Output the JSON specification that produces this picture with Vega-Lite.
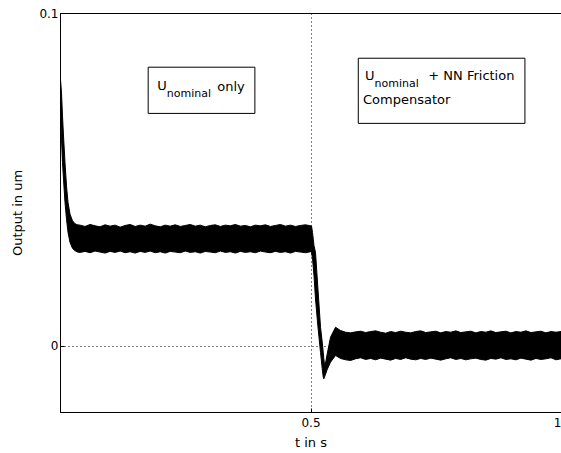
{
  "$schema": "https://vega.github.io/schema/vega-lite/v6.json",
  "width": 501,
  "height": 399,
  "autosize": {"type": "none"},
  "padding": {"left": 60, "top": 13, "right": 0, "bottom": 41},
  "background": "white",
  "config": {
    "font": "DejaVu Sans",
    "view": {"stroke": "#000", "strokeWidth": 1},
    "axis": {
      "domainColor": "#000",
      "tickColor": "#000",
      "tickSize": -4,
      "labelColor": "#000",
      "labelFont": "DejaVu Sans",
      "labelFontSize": 12,
      "titleFont": "DejaVu Sans",
      "titleFontSize": 13,
      "titleFontWeight": "normal",
      "titleColor": "#000",
      "grid": true,
      "gridColor": "#000",
      "gridDash": [1, 3],
      "gridOpacity": 1
    }
  },
  "datasets": {
    "band": [
      {"t": 0.001, "hi": 0.080, "lo": 0.070},
      {"t": 0.003, "hi": 0.076, "lo": 0.062},
      {"t": 0.005, "hi": 0.069, "lo": 0.055},
      {"t": 0.007, "hi": 0.063, "lo": 0.050},
      {"t": 0.010, "hi": 0.055, "lo": 0.043},
      {"t": 0.013, "hi": 0.048, "lo": 0.038},
      {"t": 0.016, "hi": 0.043, "lo": 0.034},
      {"t": 0.020, "hi": 0.0395, "lo": 0.031},
      {"t": 0.025, "hi": 0.0375, "lo": 0.0292},
      {"t": 0.030, "hi": 0.0366, "lo": 0.0285},
      {"t": 0.035, "hi": 0.0363, "lo": 0.0281},
      {"t": 0.040, "hi": 0.0362, "lo": 0.0280},
      {"t": 0.050, "hi": 0.0358, "lo": 0.0283},
      {"t": 0.060, "hi": 0.0364, "lo": 0.0279},
      {"t": 0.070, "hi": 0.0360, "lo": 0.0284},
      {"t": 0.080, "hi": 0.0357, "lo": 0.0281},
      {"t": 0.090, "hi": 0.0363, "lo": 0.0278},
      {"t": 0.100, "hi": 0.0359, "lo": 0.0283},
      {"t": 0.110, "hi": 0.0362, "lo": 0.0280},
      {"t": 0.120, "hi": 0.0356, "lo": 0.0284},
      {"t": 0.130, "hi": 0.0361, "lo": 0.0279},
      {"t": 0.140, "hi": 0.0364, "lo": 0.0282},
      {"t": 0.150, "hi": 0.0358, "lo": 0.0278},
      {"t": 0.160, "hi": 0.0362, "lo": 0.0283},
      {"t": 0.170, "hi": 0.0359, "lo": 0.0280},
      {"t": 0.180, "hi": 0.0365, "lo": 0.0284},
      {"t": 0.190, "hi": 0.0360, "lo": 0.0279},
      {"t": 0.200, "hi": 0.0357, "lo": 0.0282},
      {"t": 0.210, "hi": 0.0362, "lo": 0.0278},
      {"t": 0.220, "hi": 0.0359, "lo": 0.0283},
      {"t": 0.230, "hi": 0.0363, "lo": 0.0281},
      {"t": 0.240, "hi": 0.0358, "lo": 0.0279},
      {"t": 0.250, "hi": 0.0361, "lo": 0.0284},
      {"t": 0.260, "hi": 0.0364, "lo": 0.0280},
      {"t": 0.270, "hi": 0.0359, "lo": 0.0282},
      {"t": 0.280, "hi": 0.0362, "lo": 0.0278},
      {"t": 0.290, "hi": 0.0357, "lo": 0.0283},
      {"t": 0.300, "hi": 0.0361, "lo": 0.0281},
      {"t": 0.310, "hi": 0.0363, "lo": 0.0279},
      {"t": 0.320, "hi": 0.0358, "lo": 0.0284},
      {"t": 0.330, "hi": 0.0362, "lo": 0.0280},
      {"t": 0.340, "hi": 0.0360, "lo": 0.0282},
      {"t": 0.350, "hi": 0.0364, "lo": 0.0278},
      {"t": 0.360, "hi": 0.0359, "lo": 0.0283},
      {"t": 0.370, "hi": 0.0361, "lo": 0.0280},
      {"t": 0.380, "hi": 0.0357, "lo": 0.0282},
      {"t": 0.390, "hi": 0.0362, "lo": 0.0279},
      {"t": 0.400, "hi": 0.0360, "lo": 0.0284},
      {"t": 0.410, "hi": 0.0363, "lo": 0.0281},
      {"t": 0.420, "hi": 0.0358, "lo": 0.0279},
      {"t": 0.430, "hi": 0.0361, "lo": 0.0283},
      {"t": 0.440, "hi": 0.0364, "lo": 0.0280},
      {"t": 0.450, "hi": 0.0359, "lo": 0.0282},
      {"t": 0.460, "hi": 0.0362, "lo": 0.0278},
      {"t": 0.470, "hi": 0.0358, "lo": 0.0283},
      {"t": 0.480, "hi": 0.0361, "lo": 0.0281},
      {"t": 0.490, "hi": 0.0363, "lo": 0.0279},
      {"t": 0.500, "hi": 0.0360, "lo": 0.0282},
      {"t": 0.502, "hi": 0.0360, "lo": 0.0280},
      {"t": 0.504, "hi": 0.0340, "lo": 0.0262},
      {"t": 0.507, "hi": 0.0300, "lo": 0.0210},
      {"t": 0.510, "hi": 0.0280, "lo": 0.0140},
      {"t": 0.5146, "hi": 0.0176, "lo": 0.0060},
      {"t": 0.520, "hi": 0.0055, "lo": -0.0021},
      {"t": 0.5234, "hi": 0.0010, "lo": -0.0070},
      {"t": 0.5254, "hi": -0.0020, "lo": -0.0095},
      {"t": 0.5266, "hi": -0.0040, "lo": -0.0100},
      {"t": 0.5286, "hi": -0.0065, "lo": -0.0092},
      {"t": 0.5334, "hi": -0.0025, "lo": -0.0072},
      {"t": 0.540, "hi": 0.0025, "lo": -0.0050},
      {"t": 0.550, "hi": 0.0055, "lo": -0.0030},
      {"t": 0.560, "hi": 0.0045, "lo": -0.0039},
      {"t": 0.570, "hi": 0.0040, "lo": -0.0043},
      {"t": 0.580, "hi": 0.0038, "lo": -0.0045},
      {"t": 0.590, "hi": 0.0041, "lo": -0.0040},
      {"t": 0.600, "hi": 0.0043, "lo": -0.0037},
      {"t": 0.610, "hi": 0.0039, "lo": -0.0042},
      {"t": 0.620, "hi": 0.0042, "lo": -0.0039},
      {"t": 0.630, "hi": 0.0044, "lo": -0.0043},
      {"t": 0.640, "hi": 0.0040, "lo": -0.0038},
      {"t": 0.650, "hi": 0.0037, "lo": -0.0041},
      {"t": 0.660, "hi": 0.0042, "lo": -0.0044},
      {"t": 0.670, "hi": 0.0039, "lo": -0.0039},
      {"t": 0.680, "hi": 0.0043, "lo": -0.0042},
      {"t": 0.690, "hi": 0.0040, "lo": -0.0037},
      {"t": 0.700, "hi": 0.0038, "lo": -0.0041},
      {"t": 0.710, "hi": 0.0042, "lo": -0.0043},
      {"t": 0.720, "hi": 0.0044, "lo": -0.0039},
      {"t": 0.730, "hi": 0.0039, "lo": -0.0042},
      {"t": 0.740, "hi": 0.0041, "lo": -0.0038},
      {"t": 0.750, "hi": 0.0043, "lo": -0.0041},
      {"t": 0.760, "hi": 0.0038, "lo": -0.0044},
      {"t": 0.770, "hi": 0.0042, "lo": -0.0040},
      {"t": 0.780, "hi": 0.0040, "lo": -0.0037},
      {"t": 0.790, "hi": 0.0044, "lo": -0.0042},
      {"t": 0.800, "hi": 0.0039, "lo": -0.0039},
      {"t": 0.810, "hi": 0.0041, "lo": -0.0043},
      {"t": 0.820, "hi": 0.0043, "lo": -0.0040},
      {"t": 0.830, "hi": 0.0038, "lo": -0.0038},
      {"t": 0.840, "hi": 0.0042, "lo": -0.0042},
      {"t": 0.850, "hi": 0.0040, "lo": -0.0044},
      {"t": 0.860, "hi": 0.0044, "lo": -0.0039},
      {"t": 0.870, "hi": 0.0039, "lo": -0.0041},
      {"t": 0.880, "hi": 0.0041, "lo": -0.0037},
      {"t": 0.890, "hi": 0.0043, "lo": -0.0042},
      {"t": 0.900, "hi": 0.0038, "lo": -0.0040},
      {"t": 0.910, "hi": 0.0042, "lo": -0.0043},
      {"t": 0.920, "hi": 0.0040, "lo": -0.0038},
      {"t": 0.930, "hi": 0.0044, "lo": -0.0041},
      {"t": 0.940, "hi": 0.0039, "lo": -0.0044},
      {"t": 0.950, "hi": 0.0041, "lo": -0.0039},
      {"t": 0.960, "hi": 0.0043, "lo": -0.0042},
      {"t": 0.970, "hi": 0.0038, "lo": -0.0040},
      {"t": 0.980, "hi": 0.0042, "lo": -0.0037},
      {"t": 0.990, "hi": 0.0040, "lo": -0.0043},
      {"t": 1.000, "hi": 0.0042, "lo": -0.0040}
    ],
    "boxes": [
      {"t": 0.176, "t2": 0.389, "v": 0.0837, "v2": 0.0698},
      {"t": 0.5954, "t2": 0.928, "v": 0.0864, "v2": 0.0668}
    ],
    "bigtext": [
      {"t": 0.194, "v": 0.0768, "label": "U"},
      {"t": 0.314, "v": 0.0766, "label": "only"},
      {"t": 0.6088, "v": 0.0798, "label": "U"},
      {"t": 0.7351, "v": 0.0798, "label": "+ NN Friction"},
      {"t": 0.6048, "v": 0.0727, "label": "Compensator"}
    ],
    "subtext": [
      {"t": 0.213, "v": 0.0748, "label": "nominal"},
      {"t": 0.6277, "v": 0.0778, "label": "nominal"}
    ]
  },
  "layer": [
    {
      "data": {"name": "band"},
      "mark": {"type": "area", "fill": "#000", "fillOpacity": 1, "stroke": "#000", "strokeWidth": 1, "clip": true},
      "encoding": {
        "x": {
          "field": "t", "type": "quantitative", "title": "t in s",
          "scale": {"domain": [0, 1], "nice": false, "zero": false},
          "axis": {"values": [0.5, 1], "format": "~g", "labelPadding": 9, "titlePadding": 8}
        },
        "y": {
          "field": "hi", "type": "quantitative", "title": "Output in um",
          "scale": {"domain": [-0.02, 0.1], "nice": false, "zero": false},
          "axis": {"values": [0, 0.1], "format": "~g", "labelPadding": 6, "titlePadding": 14}
        },
        "y2": {"field": "lo", "title": "Output in um"}
      }
    },
    {
      "data": {"name": "boxes"},
      "mark": {"type": "rect", "fill": "#fff", "stroke": "#000", "strokeWidth": 1},
      "encoding": {
        "x": {"field": "t", "type": "quantitative", "title": "t in s"},
        "x2": {"field": "t2", "title": "t in s"},
        "y": {"field": "v", "type": "quantitative", "title": "Output in um"},
        "y2": {"field": "v2", "title": "Output in um"}
      }
    },
    {
      "data": {"name": "bigtext"},
      "mark": {"type": "text", "align": "left", "baseline": "alphabetic", "fontSize": 13, "font": "DejaVu Sans", "color": "#000"},
      "encoding": {
        "x": {"field": "t", "type": "quantitative", "title": "t in s"},
        "y": {"field": "v", "type": "quantitative", "title": "Output in um"},
        "text": {"field": "label"}
      }
    },
    {
      "data": {"name": "subtext"},
      "mark": {"type": "text", "align": "left", "baseline": "alphabetic", "fontSize": 11, "font": "DejaVu Sans", "color": "#000"},
      "encoding": {
        "x": {"field": "t", "type": "quantitative", "title": "t in s"},
        "y": {"field": "v", "type": "quantitative", "title": "Output in um"},
        "text": {"field": "label"}
      }
    }
  ]
}
